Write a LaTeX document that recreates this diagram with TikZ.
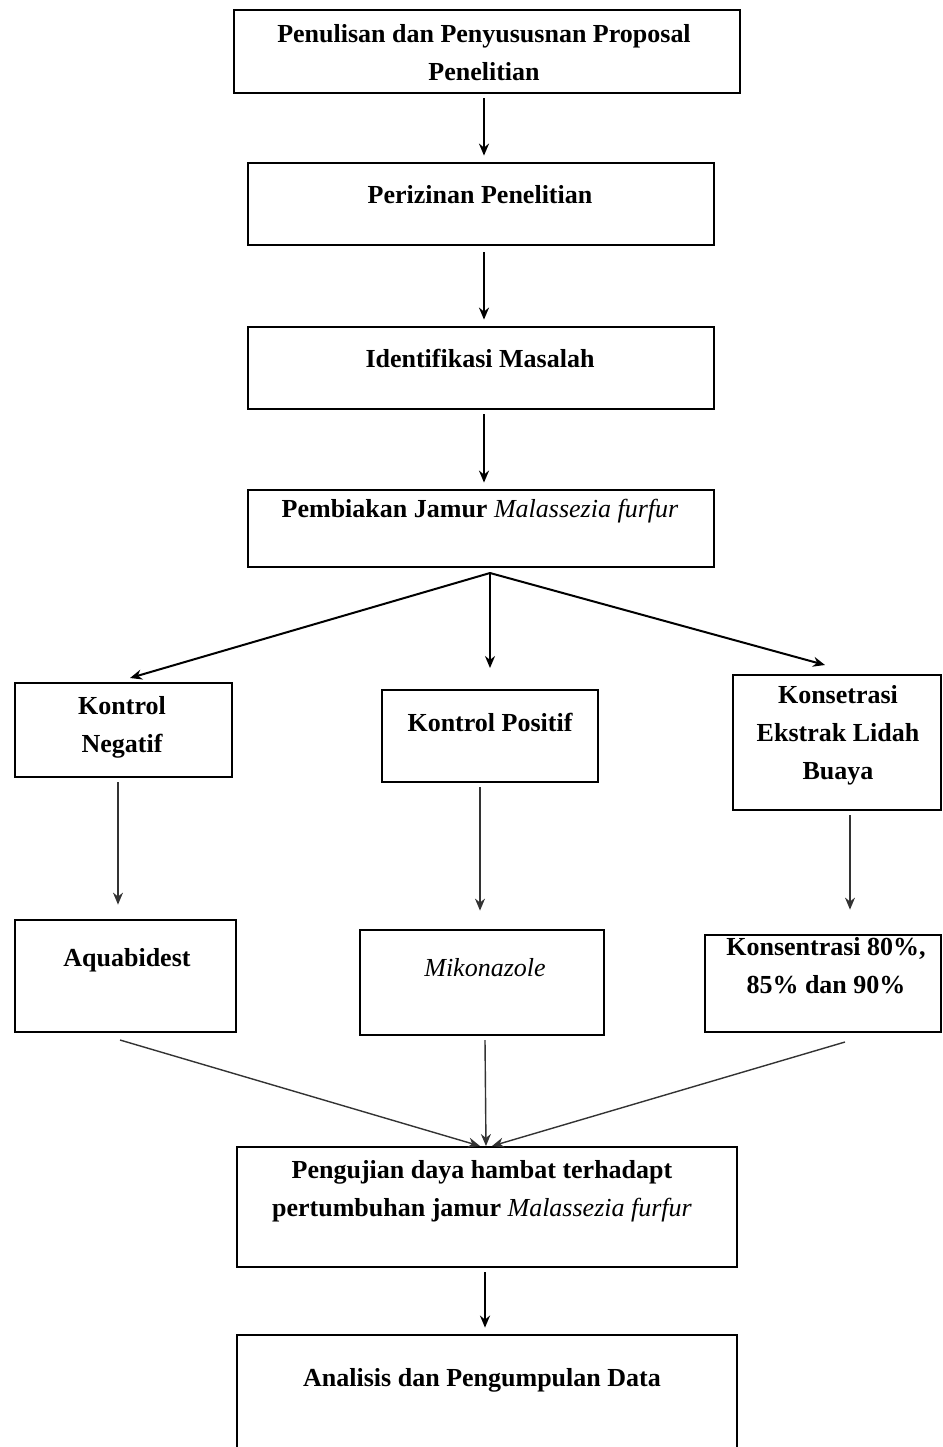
\documentclass[tikz,border=0pt]{standalone}
\usepackage{fontspec}
\setmainfont{Liberation Serif}
\usetikzlibrary{arrows.meta}

\begin{document}
\begin{tikzpicture}[>={Stealth[length=6pt,width=5pt]}, x=0.5pt, y=-0.5pt,
    box/.style={draw, line width=1.4pt, inner sep=0pt},
    txt/.style={align=center, font=\fontsize{13}{19}\selectfont\bfseries},
    flow/.style={->, line width=1pt},
    thin/.style={->, line width=0.7pt, black!80}]

        % Page
        \useasboundingbox (0,0) rectangle (943,1447);
        \clip (0,0) rectangle (943,1447);

        % Main column
        \node[box, minimum width=253pt, minimum height=41.5pt] (prop) at (487,51.5) {};
        \node[txt] (propT) at (484,53) {Penulisan dan Penyususnan Proposal\\Penelitian};

        \node[box, minimum width=233pt, minimum height=41pt] (izin) at (481,204) {};
        \node[txt] (izinT) at (480,195) {Perizinan Penelitian};

        \node[box, minimum width=233pt, minimum height=41pt] (ident) at (481,368) {};
        \node[txt] (identT) at (480,358) {Identifikasi Masalah};

        \node[box, minimum width=233pt, minimum height=38.5pt] (biak) at (481,528.5) {};
        \node[txt] (biakT) at (480,511) {Pembiakan Jamur \textnormal{\itshape Malassezia furfur}};

        % Three branches
        \node[box, minimum width=108.5pt, minimum height=47pt] (neg) at (123.5,730) {};
        \node[txt] (negT) at (122,727) {Kontrol\\Negatif};

        \node[box, minimum width=108pt, minimum height=46pt] (pos) at (490,736) {};
        \node[txt] (posT) at (490,722) {Kontrol Positif};

        \node[box, minimum width=104pt, minimum height=67.5pt] (kons) at (837,742.5) {};
        \node[txt] (konsT) at (838,735) {Konsetrasi\\Ekstrak Lidah\\Buaya};

        \node[box, minimum width=110.5pt, minimum height=56pt] (aqua) at (125.5,976) {};
        \node[txt] (aquaT) at (127,960) {Aquabidest};

        \node[box, minimum width=122pt, minimum height=52.5pt] (miko) at (482,982.5) {};
        \node[txt] (mikoT) at (485,968) {\textnormal{\itshape Mikonazole}};

        \node[box, minimum width=118pt, minimum height=48.5pt] (persen) at (823,983.5) {};
        \node[txt] (persenT) at (826,966) {Konsentrasi 80\%,\\85\% dan 90\%};

        % Bottom
        \node[box, minimum width=250pt, minimum height=60pt] (uji) at (487,1207) {};
        \node[txt] (ujiT) at (482,1191) {Pengujian daya hambat terhadapt\\pertumbuhan jamur \textnormal{\itshape Malassezia furfur}};

        \node[box, minimum width=250pt, minimum height=70pt] (anal) at (487,1405) {};
        \node[txt] (analT) at (482,1380) {Analisis dan Pengumpulan Data};

        % Arrow end points
        \coordinate (fork) at (490,573);
        \coordinate (negIn) at (130,678);
        \coordinate (posIn) at (490,668);
        \coordinate (konsIn) at (825,665);
        \coordinate (aquaOut) at (120,1040);
        \coordinate (mikoOut) at (485,1040);
        \coordinate (persenOut) at (845,1042);
        \coordinate (ujiL) at (480,1146);
        \coordinate (ujiM) at (486,1146);
        \coordinate (ujiR) at (492,1146);

        % Arrows down the column
        \draw[flow, shorten <=2pt, shorten >=3pt] (prop.south -| 484,0) -- (izin.north -| 484,0);
        \draw[flow, shorten <=3pt, shorten >=3pt] (izin.south -| 484,0) -- (ident.north -| 484,0);
        \draw[flow, shorten <=2pt, shorten >=3pt] (ident.south -| 484,0) -- (biak.north -| 484,0);

        % Split into three
        \draw[flow] (fork) -- (negIn);
        \draw[flow] (fork) -- (posIn);
        \draw[flow] (fork) -- (konsIn);

        \draw[thin, shorten <=2pt, shorten >=7pt] (neg.south -| 118,0) -- (aqua.north -| 118,0);
        \draw[thin, shorten <=2pt, shorten >=9pt] (pos.south -| 480,0) -- (miko.north -| 480,0);
        \draw[thin, shorten <=2pt, shorten >=12pt] (kons.south -| 850,0) -- (persen.north -| 850,0);

        % Join again
        \draw[thin] (aquaOut) -- (ujiL);
        \draw[thin] (mikoOut) -- (ujiM);
        \draw[thin] (persenOut) -- (ujiR);

        \draw[flow, shorten <=2pt, shorten >=3pt] (uji.south -| 485,0) -- (anal.north -| 485,0);

    \end{tikzpicture}
\end{document}
